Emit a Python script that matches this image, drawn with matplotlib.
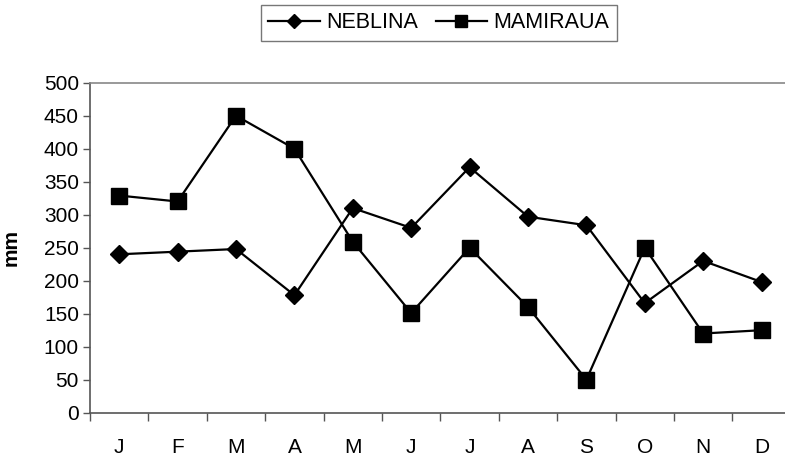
import matplotlib
matplotlib.use("Agg")
import matplotlib.pyplot as plt
import numpy as np

months = ["J", "F", "M", "A", "M", "J", "J", "A", "S", "O", "N", "D"]
neblina = [240, 244, 248, 178, 310, 280, 372, 297, 284, 166, 230, 198]
mamiraua = [329, 320, 450, 400, 259, 151, 250, 160, 50, 250, 120, 125]
yticks = [0, 50, 100, 150, 200, 250, 300, 350, 400, 450, 500]

plt.rcParams['font.family'] = ['Liberation Sans', 'DejaVu Sans']

fig = plt.figure(figsize=(7.85, 4.57), dpi=100)
ax = fig.add_axes([90/785, 1-412.7/457, 700.8/785, 330/457])

x = np.arange(len(months))
l1, = ax.plot(x, neblina, color='black', lw=1.6, marker='D', markersize=9, label='NEBLINA')
l2, = ax.plot(x, mamiraua, color='black', lw=1.6, marker='s', markersize=11, label='MAMIRAUA')

ax.set_xlim(-0.5, len(months) - 0.5)
ax.set_ylim(0, 500)
ax.set_yticks(yticks)
ax.set_yticklabels([str(v) for v in yticks], fontsize=15)
ax.set_xticks(x)
ax.set_xticklabels(months, fontsize=15)
ax.set_xticks(np.arange(-0.5, len(months), 1), minor=True)
ax.tick_params(axis='x', which='major', length=0, pad=18)
ax.tick_params(axis='x', which='minor', length=6, width=1, color='#555555', direction='out')
ax.tick_params(axis='y', length=5, width=1, color='#555555', direction='out', pad=3)

for s in ['left', 'bottom']:
    ax.spines[s].set_color('#555555')
    ax.spines[s].set_linewidth(1.2)
ax.spines['top'].set_color('#888888')
ax.spines['top'].set_linewidth(1.2)
ax.spines['right'].set_visible(False)

ax.set_ylabel('mm', fontsize=15, fontweight='bold')
ax.yaxis.set_label_coords(-(90 - 21) / 700.8, 0.5)

leg = fig.legend(handles=[l1, l2], loc='center', bbox_to_anchor=(439/785, 1-23/457),
                 ncol=2, fontsize=15.5, frameon=True, fancybox=False, edgecolor='#555555',
                 handlelength=2.4, handletextpad=0.3, columnspacing=0.8, borderpad=0.35,
                 markerscale=0.75)
leg.get_frame().set_linewidth(1.0)

fig.savefig('out.png', dpi=100)
